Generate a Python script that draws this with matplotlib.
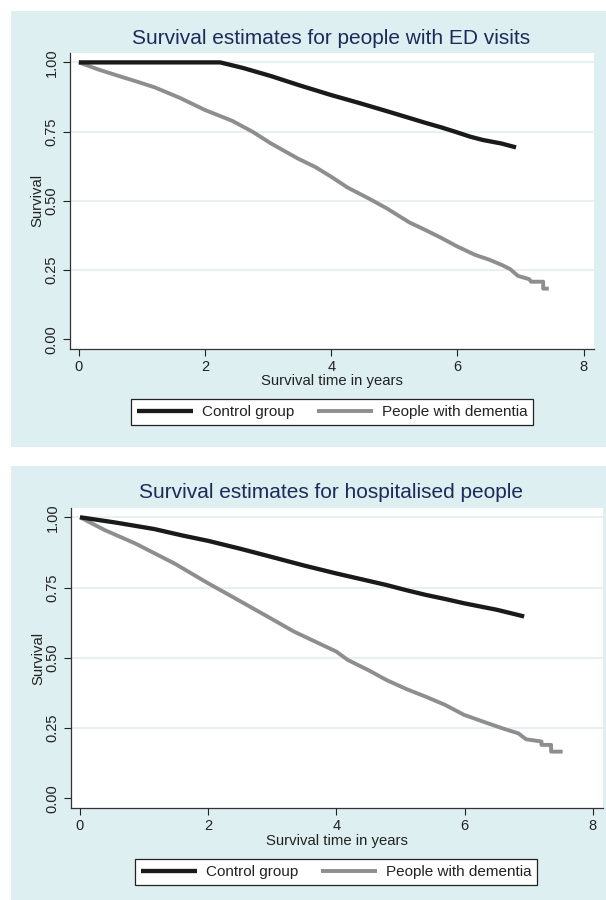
import matplotlib
matplotlib.use("Agg")
import matplotlib.pyplot as plt
from matplotlib.patches import Rectangle

plt.rcParams['font.family'] = ['Liberation Sans', 'DejaVu Sans']

# survival curves (years, survival)
ed_ctrl_t = [0, 2.24, 2.6, 3.04, 3.5, 4.0, 4.45, 4.88, 5.2, 5.49, 5.75, 6.0, 6.2, 6.4, 6.7, 6.93]
ed_ctrl_s = [1.0, 1.0, 0.980, 0.951, 0.917, 0.882, 0.853, 0.824, 0.802, 0.782, 0.765, 0.747, 0.732, 0.720, 0.707, 0.693]
ed_dem_t = [0, 0.3, 0.59, 0.9, 1.2, 1.6, 2.0, 2.43, 2.75, 3.04, 3.47, 3.75, 4.0, 4.26, 4.6, 4.88, 5.24, 5.5, 5.73, 6.0, 6.28, 6.5, 6.71, 6.84, 6.96, 7.14, 7.17, 7.36, 7.36, 7.45]
ed_dem_s = [1.0, 0.975, 0.954, 0.932, 0.910, 0.872, 0.828, 0.789, 0.750, 0.708, 0.653, 0.622, 0.587, 0.548, 0.508, 0.473, 0.422, 0.394, 0.368, 0.335, 0.305, 0.288, 0.268, 0.253, 0.229, 0.217, 0.208, 0.208, 0.183, 0.183]

hosp_ctrl_t = [0, 0.56, 1.16, 1.6, 2.0, 2.5, 2.97, 3.5, 4.0, 4.4, 4.78, 5.1, 5.39, 5.7, 5.99, 6.5, 6.93]
hosp_ctrl_s = [1.0, 0.981, 0.958, 0.935, 0.916, 0.888, 0.860, 0.828, 0.800, 0.779, 0.759, 0.740, 0.724, 0.709, 0.694, 0.671, 0.647]
hosp_dem_t = [0, 0.38, 0.86, 1.47, 2.0, 2.37, 2.97, 3.34, 4.0, 4.18, 4.5, 4.78, 5.1, 5.39, 5.7, 5.99, 6.3, 6.59, 6.84, 6.96, 7.2, 7.2, 7.35, 7.35, 7.53]
hosp_dem_s = [1.0, 0.955, 0.907, 0.836, 0.765, 0.718, 0.641, 0.593, 0.522, 0.492, 0.456, 0.421, 0.388, 0.362, 0.332, 0.297, 0.272, 0.249, 0.231, 0.210, 0.202, 0.190, 0.190, 0.166, 0.166]

titles = ["Survival estimates for people with ED visits",
          "Survival estimates for hospitalised people"]
groups = ["Control group", "People with dementia"]
xticks = [0, 2, 4, 6, 8]
yticks = [0.0, 0.25, 0.5, 0.75, 1.0]
ylabels = ["0.00", "0.25", "0.50", "0.75", "1.00"]

BG = '#ddeff1'
GRID = '#e3eff1'
NAVY = '#1d2a5a'
CTRL = '#1a1a1a'
DEM = '#8e8e8e'

W, H = 606, 900
fig = plt.figure(figsize=(W / 100, H / 100), dpi=100)

def px(x0, y0, x1, y1):
  # pixel box (top-left origin) -> figure fractions
  return [x0 / W, 1 - y1 / H, (x1 - x0) / W, (y1 - y0) / H]

# panel backgrounds
for (x0, y0, x1, y1) in [(11, 11, 606, 447), (11, 466, 606, 900)]:
  fig.patches.append(Rectangle((x0 / W, 1 - y1 / H), (x1 - x0) / W, (y1 - y0) / H,
                               transform=fig.transFigure, facecolor=BG, edgecolor='none', zorder=-5))

panels = [
  dict(box=(69.6, 52.7, 594, 349), xlim=(-0.147, 8.166), ylim=(-0.035, 1.035),
       title_y=39, xlab_y=381, leg=(332, 412),
       ctrl=(ed_ctrl_t, ed_ctrl_s), dem=(ed_dem_t, ed_dem_s)),
  dict(box=(70.7, 507.7, 603, 808.3), xlim=(-0.145, 8.16), ylim=(-0.0356, 1.034),
       title_y=493, xlab_y=841, leg=(336, 872),
       ctrl=(hosp_ctrl_t, hosp_ctrl_s), dem=(hosp_dem_t, hosp_dem_s)),
]

for i, p in enumerate(panels):
  ax = fig.add_axes(px(*p['box']))
  ax.set_zorder(2)
  ax.set_facecolor('white')
  for yv in yticks[1:]:
    ax.axhline(yv, color=GRID, lw=1.2, zorder=1)
  l1, = ax.plot(*p['ctrl'], color=CTRL, lw=3.1, solid_capstyle='butt', zorder=3, label=groups[0])
  l2, = ax.plot(*p['dem'], color=DEM, lw=2.8, solid_capstyle='butt', zorder=2, label=groups[1])
  ax.set_xlim(*p['xlim'])
  ax.set_ylim(*p['ylim'])
  ax.set_xticks(xticks)
  ax.set_yticks(yticks)
  ax.set_yticklabels(ylabels, rotation=90, va='center')
  ax.tick_params(direction='out', length=5, width=0.8, colors='#222222', labelsize=10.5, pad=3)
  for s in ['top', 'right']:
    ax.spines[s].set_visible(False)
  for s in ['left', 'bottom']:
    ax.spines[s].set_color('#333333')
    ax.spines[s].set_linewidth(0.9)
  ax.set_ylabel("Survival", fontsize=10.7, color='#222222', labelpad=0)

  bx0, by0, bx1, by1 = p['box']
  fig.text(331 / W, 1 - p['title_y'] / H, titles[i], ha='center', va='center',
           fontsize=15, color=NAVY)
  fig.text(((bx0 + bx1) / 2) / W, 1 - p['xlab_y'] / H, "Survival time in years",
           ha='center', va='center', fontsize=10.7, color='#222222')

  leg = ax.legend(handles=[l1, l2], loc='center', ncol=2, bbox_to_anchor=(p['leg'][0] / W, 1 - p['leg'][1] / H),
                  bbox_transform=fig.transFigure, fontsize=11, frameon=True, fancybox=False,
                  edgecolor='#222222', facecolor='white', framealpha=1, handlelength=3.7,
                  handletextpad=0.55, columnspacing=1.5, borderpad=0.4)
  leg.get_frame().set_linewidth(0.9)
  for t in leg.get_texts():
    t.set_color('#222222')

fig.savefig("out.png", dpi=100)
